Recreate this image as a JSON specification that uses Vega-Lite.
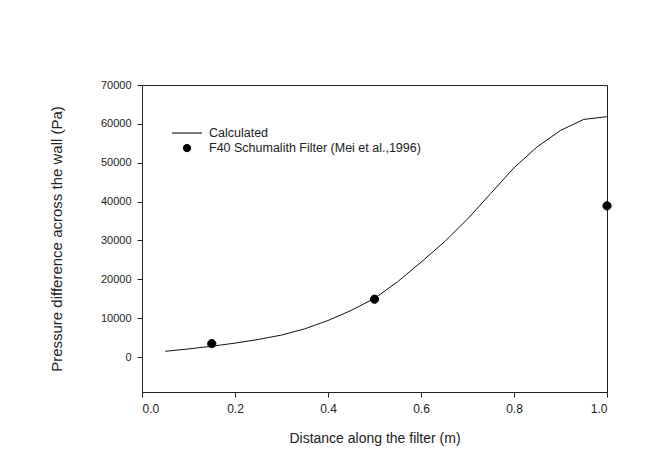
{
  "$schema": "https://vega.github.io/schema/vega-lite/v6.json",
  "width": 465,
  "height": 307,
  "autosize": {"type": "none"},
  "padding": {"left": 142, "top": 85, "right": 59, "bottom": 83},
  "background": "white",
  "config": {
    "font": "Liberation Sans",
    "view": {"stroke": "#222222", "strokeWidth": 1},
    "axis": {
      "grid": false,
      "domainColor": "#222222",
      "tickColor": "#222222",
      "labelColor": "#222222",
      "titleColor": "#222222",
      "titleFontWeight": "normal",
      "labelFont": "Liberation Sans",
      "titleFont": "Liberation Sans"
    },
    "legend": {"labelFont": "Liberation Sans"}
  },
  "datasets": {
    "calc": [
      {"x": 0.05, "y": 1470, "series": "Calculated"},
      {"x": 0.1, "y": 2080, "series": "Calculated"},
      {"x": 0.15, "y": 2780, "series": "Calculated"},
      {"x": 0.2, "y": 3580, "series": "Calculated"},
      {"x": 0.25, "y": 4520, "series": "Calculated"},
      {"x": 0.3, "y": 5650, "series": "Calculated"},
      {"x": 0.35, "y": 7250, "series": "Calculated"},
      {"x": 0.4, "y": 9400, "series": "Calculated"},
      {"x": 0.45, "y": 12000, "series": "Calculated"},
      {"x": 0.5, "y": 15100, "series": "Calculated"},
      {"x": 0.55, "y": 19400, "series": "Calculated"},
      {"x": 0.6, "y": 24400, "series": "Calculated"},
      {"x": 0.65, "y": 29600, "series": "Calculated"},
      {"x": 0.7, "y": 35500, "series": "Calculated"},
      {"x": 0.75, "y": 42100, "series": "Calculated"},
      {"x": 0.8, "y": 48700, "series": "Calculated"},
      {"x": 0.85, "y": 54100, "series": "Calculated"},
      {"x": 0.9, "y": 58300, "series": "Calculated"},
      {"x": 0.95, "y": 61150, "series": "Calculated"},
      {"x": 1.0, "y": 61840, "series": "Calculated"}
    ],
    "meas": [
      {"x": 0.15, "y": 3450, "series": "F40 Schumalith Filter (Mei et al.,1996)"},
      {"x": 0.5, "y": 14870, "series": "F40 Schumalith Filter (Mei et al.,1996)"},
      {"x": 1.0, "y": 38900, "series": "F40 Schumalith Filter (Mei et al.,1996)"}
    ]
  },
  "layer": [
    {
      "data": {"name": "calc"},
      "mark": {"type": "line", "color": "#111111", "strokeWidth": 1, "clip": false},
      "encoding": {
        "x": {
          "field": "x", "type": "quantitative",
          "scale": {"domain": [0, 1], "nice": false, "zero": false},
          "axis": {
            "title": "Distance along the filter (m)",
            "values": [0, 0.2, 0.4, 0.6, 0.8, 1.0],
            "format": ".1f",
            "tickSize": 5,
            "labelPadding": 6,
            "labelFontSize": 12,
            "titleFontSize": 14,
            "titlePadding": 17
          }
        },
        "y": {
          "field": "y", "type": "quantitative",
          "scale": {"domain": [-9000, 70000], "nice": false, "zero": false},
          "axis": {
            "title": "Pressure difference across the wall (Pa)",
            "values": [0, 10000, 20000, 30000, 40000, 50000, 60000, 70000],
            "format": "d",
            "tickSize": 5,
            "labelPadding": 6,
            "labelFontSize": 11,
            "titleFontSize": 15,
            "titlePadding": 36
          }
        }
      }
    },
    {
      "data": {"name": "meas"},
      "mark": {"type": "point", "filled": false, "fill": "#000000", "stroke": "#000000", "fillOpacity": 1, "opacity": 1, "size": 225, "strokeWidth": 1, "clip": false},
      "encoding": {
        "x": {"field": "x", "type": "quantitative"},
        "y": {"field": "y", "type": "quantitative"},
        "shape": {
          "field": "series", "type": "nominal",
          "scale": {
            "domain": ["Calculated", "F40 Schumalith Filter (Mei et al.,1996)"],
            "range": ["M-2,-0.07H2V0.07H-2Z", "M-0.55,0A0.55,0.55,0,1,1,0.55,0A0.55,0.55,0,1,1,-0.55,0Z"]
          },
          "legend": {
            "title": null,
            "orient": "none",
            "legendX": 37,
            "legendY": 40,
            "symbolSize": 225,
            "symbolFillColor": "#000000",
            "symbolStrokeColor": "#000000",
            "symbolStrokeWidth": 1,
            "labelFontSize": 12.5,
            "labelColor": "#222222",
            "labelOffset": 14,
            "labelLimit": 400,
            "rowPadding": 0,
            "padding": 0
          }
        }
      }
    }
  ]
}
